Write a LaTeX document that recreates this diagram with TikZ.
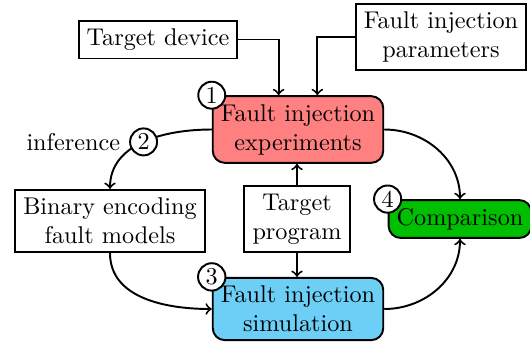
\documentclass[tikz,border=0pt]{standalone}
\usepackage{tikz}
\usepackage{amsmath}
\definecolor{simblue}{HTML}{6DCFF6}
\definecolor{cmpgreen}{HTML}{00BE00}

\begin{document}
\begin{tikzpicture}[x=0.413pt,y=-0.413pt,
    box/.style={draw,thick,align=center,fill=white},
    stage/.style={draw,thick,align=center,rounded corners=5pt},
    num/.style={draw,thick,circle,fill=white,inner sep=1pt},
    flow/.style={->,thick}]
    \useasboundingbox (0,0) rectangle (530,343);
    %inputs
    \node [box] (device) at (158,39.5) {Target device};
    \node [box] (params) at (441,37) {Fault injection\\parameters};
    \node [box] (binary) at (110,221) {Binary encoding\\fault models};
    \node [box] (program) at (297,219) {Target\\program};
    %stages
    \node [stage,fill=red!50] (exp) at (298,129.5) {Fault injection\\experiments};
    \node [stage,fill=simblue] (sim) at (298,309) {Fault injection\\simulation};
    \node [stage,fill=cmpgreen] (cmp) at (460,219) {Comparison};
    \node [num] (n1) at (exp.north west) {1};
    \node [num] (n3) at (sim.north west) {3};
    \node [num] (n4) at (cmp.north west) {4};
    %connectors
    \draw [flow] (device.east) -| ([xshift=-8pt]exp.north);
    \draw [flow] (params.west) -| ([xshift=8pt]exp.north);
    \draw [flow] (exp.west) to[out=180,in=90]
        node [num,pos=0.5,label={left:inference}] (n2) {2} (binary.north);
    \draw [flow] (exp.east) to[out=0,in=90] (cmp.north);
    \draw [flow] (program.north) -- (program.north |- exp.south);
    \draw [flow] (program.south) -- (program.south |- sim.north);
    \draw [flow] (binary.south) to[out=-90,in=180] (sim.west);
    \draw [flow] (sim.east) to[out=0,in=-90] (cmp.south);
\end{tikzpicture}
\end{document}
